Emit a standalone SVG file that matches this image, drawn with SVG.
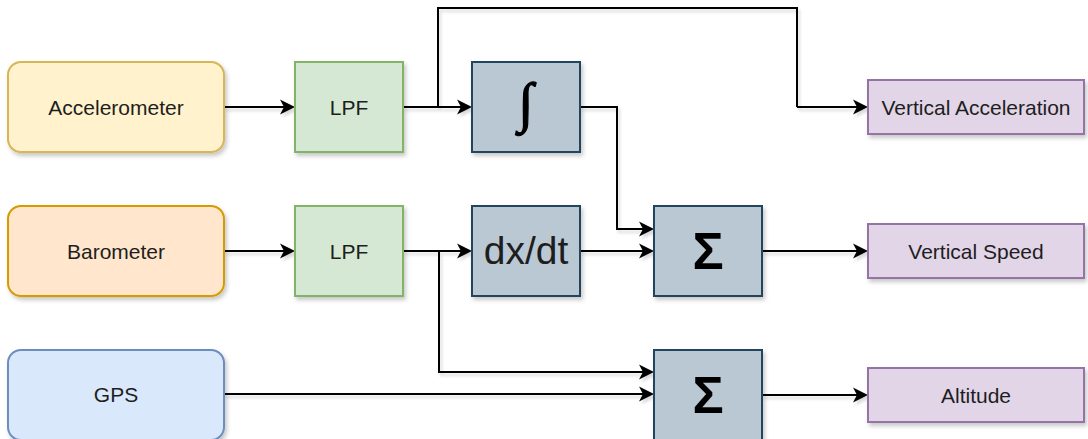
<svg xmlns="http://www.w3.org/2000/svg" width="1088" height="439" viewBox="0 0 1088 439">
  <style>
    .box { stroke-width: 2; filter: url(#shadow); }
    .src-acc { fill: #fff2cc; stroke: #d6b656; }
    .src-baro { fill: #ffe6cc; stroke: #d79b00; }
    .src-gps { fill: #dae8fc; stroke: #6c8ebf; }
    .filter { fill: #d5e8d4; stroke: #82b366; }
    .op { fill: #bac8d3; stroke: #23445d; }
    .out { fill: #e1d5e7; stroke: #9673a6; }
    .label { font-family: "Liberation Sans", Arial, sans-serif; font-size: 21px; fill: #1e1e1e; text-anchor: middle; dominant-baseline: central; }
    .big { font-size: 39px; }
    .sigma { font-family: "Liberation Sans", Arial, sans-serif; font-weight: bold; font-size: 52px; fill: #000; text-anchor: middle; dominant-baseline: central; }
    .integral { font-family: "Liberation Serif", "Times New Roman", serif; font-size: 55px; fill: #000; stroke: #000; stroke-width: 1.2; text-anchor: middle; dominant-baseline: central; }
    .wire { fill: none; stroke: #000; stroke-width: 2; marker-end: url(#arrow); }
    .plain { fill: none; stroke: #000; stroke-width: 2; }
  </style>
  <defs>
    <filter id="shadow" x="-10%" y="-10%" width="125%" height="130%">
      <feDropShadow dx="2" dy="3" stdDeviation="2" flood-color="#000" flood-opacity="0.22"/>
    </filter>
    <filter id="wireShadow" x="-5%" y="-5%" width="110%" height="115%">
      <feDropShadow dx="2" dy="3" stdDeviation="1.5" flood-color="#000" flood-opacity="0.15"/>
    </filter>
    <marker id="arrow" markerUnits="userSpaceOnUse" markerWidth="20" markerHeight="20" viewBox="-6 -10 20 20" refX="0" refY="0" orient="auto" overflow="visible">
      <path d="M-4,-7.5 L11,0 L-4,7.5 L0,0 Z" fill="#000"/>
    </marker>
  </defs>

  <rect width="1088" height="439" fill="#ffffff"/>

  <!-- signal paths -->
  <g id="connectors" filter="url(#wireShadow)">
    <path class="wire" d="M224,107 H284"/>
    <path class="wire" d="M403,107 H461"/>
    <path class="plain" d="M438,107 V8 H797 V107"/>
    <path class="wire" d="M797,107 H857"/>
    <path class="wire" d="M580,107 H617 V229 H643"/>
    <path class="wire" d="M224,251 H284"/>
    <path class="wire" d="M403,251 H461"/>
    <path class="wire" d="M439,251 V372 H643"/>
    <path class="wire" d="M580,251 H643"/>
    <path class="wire" d="M224,394 H643"/>
    <path class="wire" d="M762,251 H857"/>
    <path class="wire" d="M762,395 H857"/>
  </g>

  <!-- sensors -->
  <g id="accelerometer">
    <rect class="box src-acc" x="8" y="62" width="216" height="90" rx="13"/>
    <text class="label" x="116" y="107">Accelerometer</text>
  </g>
  <g id="barometer">
    <rect class="box src-baro" x="8" y="206" width="216" height="90" rx="13"/>
    <text class="label" x="116" y="251">Barometer</text>
  </g>
  <g id="gps">
    <rect class="box src-gps" x="8" y="350" width="216" height="90" rx="13"/>
    <text class="label" x="116" y="394">GPS</text>
  </g>

  <!-- low-pass filters -->
  <g id="lpf-acc">
    <rect class="box filter" x="295" y="62" width="108" height="90"/>
    <text class="label" x="349" y="107">LPF</text>
  </g>
  <g id="lpf-baro">
    <rect class="box filter" x="295" y="206" width="108" height="90"/>
    <text class="label" x="349" y="251">LPF</text>
  </g>

  <!-- operators -->
  <g id="integrator">
    <rect class="box op" x="472" y="62" width="108" height="90"/>
    <text class="integral" x="526" y="102">∫</text>
  </g>
  <g id="derivative">
    <rect class="box op" x="472" y="206" width="108" height="90"/>
    <text class="label big" x="526" y="250">dx/dt</text>
  </g>
  <g id="sum-speed">
    <rect class="box op" x="654" y="206" width="108" height="90"/>
    <text class="sigma" x="708" y="251">Σ</text>
  </g>
  <g id="sum-altitude">
    <rect class="box op" x="654" y="350" width="108" height="90"/>
    <text class="sigma" x="708" y="395">Σ</text>
  </g>

  <!-- outputs -->
  <g id="vertical-acceleration">
    <rect class="box out" x="868" y="80" width="216" height="54"/>
    <text class="label" x="976" y="107">Vertical Acceleration</text>
  </g>
  <g id="vertical-speed">
    <rect class="box out" x="868" y="224" width="216" height="54"/>
    <text class="label" x="976" y="251">Vertical Speed</text>
  </g>
  <g id="altitude">
    <rect class="box out" x="868" y="368" width="216" height="54"/>
    <text class="label" x="976" y="395">Altitude</text>
  </g>
</svg>
